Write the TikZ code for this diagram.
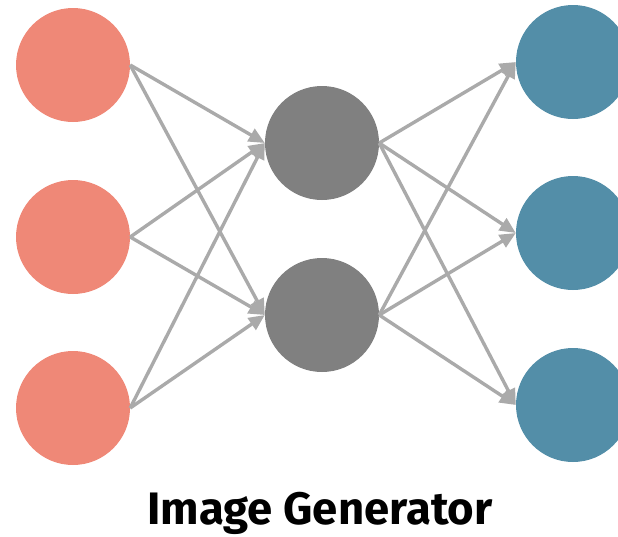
\documentclass[tikz,border=0pt]{standalone}
\usepackage{fontspec}
\setmainfont{Fira Sans}
\usetikzlibrary{arrows.meta}
\definecolor{inc}{HTML}{EF8877}
\definecolor{hid}{HTML}{808080}
\definecolor{outc}{HTML}{538EA8}
\definecolor{edgec}{HTML}{AAAAAA}
\begin{document}
\begin{tikzpicture}[x=1pt,y=-1pt,
  neuron/.style={circle,minimum size=114pt,inner sep=0pt,draw=none},
  conn/.style={draw=edgec,line width=3.4pt,-{Triangle[length=16pt,width=14pt]},shorten >=0pt}]
\useasboundingbox (0,0) rectangle (618,536);
\node[neuron,fill=inc] (i1) at (73,65) {};
\node[neuron,fill=inc] (i2) at (73,237) {};
\node[neuron,fill=inc] (i3) at (73,408) {};
\node[neuron,fill=hid] (h1) at (322,143) {};
\node[neuron,fill=hid] (h2) at (322,315) {};
\node[neuron,fill=outc] (o1) at (573,62) {};
\node[neuron,fill=outc] (o2) at (573,233) {};
\node[neuron,fill=outc] (o3) at (573,405) {};
\foreach \a in {i1,i2,i3}{\foreach \b in {h1,h2}{\draw[conn] (\a.east) -- (\b.west);}}
\foreach \a in {h1,h2}{\foreach \b in {o1,o2,o3}{\draw[conn] (\a.east) -- (\b.west);}}
\node[anchor=base,font=\fontsize{45.5}{45.5}\selectfont\bfseries,inner sep=0pt] (title) at (320,524) {Image Generator};
\end{tikzpicture}
\end{document}
